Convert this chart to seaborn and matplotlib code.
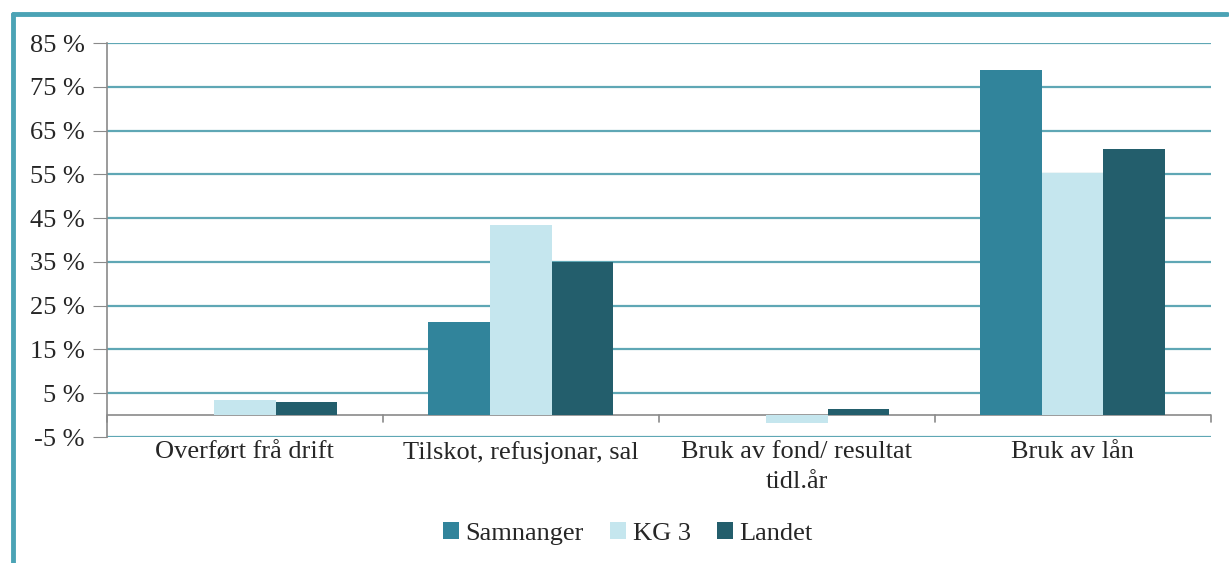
import matplotlib.pyplot as plt
import matplotlib.lines as mlines
import pandas as pd
import seaborn as sns

categories = ["Overført frå drift", "Tilskot, refusjonar, sal", "Bruk av fond/ resultat\ntidl.år", "Bruk av lån"]
series = ["Samnanger", "KG 3", "Landet"]
samnanger = [0.0, 21.2, 0.0, 78.8]
kg3 = [3.4, 43.4, -1.8, 55.2]
landet = [3.1, 35.0, 1.3, 60.7]
yticks = [-5, 5, 15, 25, 35, 45, 55, 65, 75, 85]

colors = ["#31849B", "#C5E6EE", "#235E6C"]
grid_col = "#5FA7B5"

df = pd.DataFrame({
    "cat": categories * 3,
    "serie": [s for s in series for _ in categories],
    "val": samnanger + kg3 + landet,
})

sns.set_style("white")
plt.rcParams["font.family"] = ["Liberation Serif", "DejaVu Serif"]

fig = plt.figure(figsize=(12.29, 5.63), dpi=100)
ax = fig.add_axes([0.087, 0.2238, 0.898, 0.6998])

sns.barplot(data=df, x="cat", y="val", hue="serie", palette=colors, saturation=1,
            width=0.67, ax=ax, linewidth=0, zorder=3)

ax.set_ylim(-5, 85)
ax.set_xlim(-0.5, len(categories) - 0.5)
ax.set_yticks(yticks)
ax.set_yticklabels([f"{t} %" for t in yticks], fontsize=19)
for t in yticks:
    ax.axhline(t, color=grid_col, lw=1.6, zorder=1)
ax.axhline(0, color="#8a8a8a", lw=1.2, zorder=2)
for k in range(len(categories) + 1):
    ax.plot([k - 0.5, k - 0.5], [0, -1.5], color="#8a8a8a", lw=1.2, zorder=2, clip_on=False)

ax.set_xticks(range(len(categories)))
ax.set_xticklabels(categories, fontsize=19, linespacing=1.45)
ax.tick_params(axis="x", length=0, pad=3)
ax.tick_params(axis="y", left=True, length=10, color="#8a8a8a", pad=6)
for s in ["top", "right", "bottom"]:
    ax.spines[s].set_visible(False)
ax.spines["left"].set_color("#8a8a8a")
ax.spines["left"].set_linewidth(1.2)
ax.set_xlabel("")
ax.set_ylabel("")

handles, labels = ax.get_legend_handles_labels()
ax.legend(handles, labels, loc="center", bbox_to_anchor=(0.511, 0.052), bbox_transform=fig.transFigure,
          ncol=3, frameon=False, fontsize=19, handlelength=0.6, handleheight=0.6,
          handletextpad=0.25, columnspacing=1.0)

# chart frame
fig.add_artist(mlines.Line2D([0.0105, 0.0105], [0, 0.976], color="#4BA3B5", lw=3.5))
fig.add_artist(mlines.Line2D([0.0105, 0.998], [0.976, 0.976], color="#4BA3B5", lw=3.5))

fig.savefig("out.png", dpi=100)
